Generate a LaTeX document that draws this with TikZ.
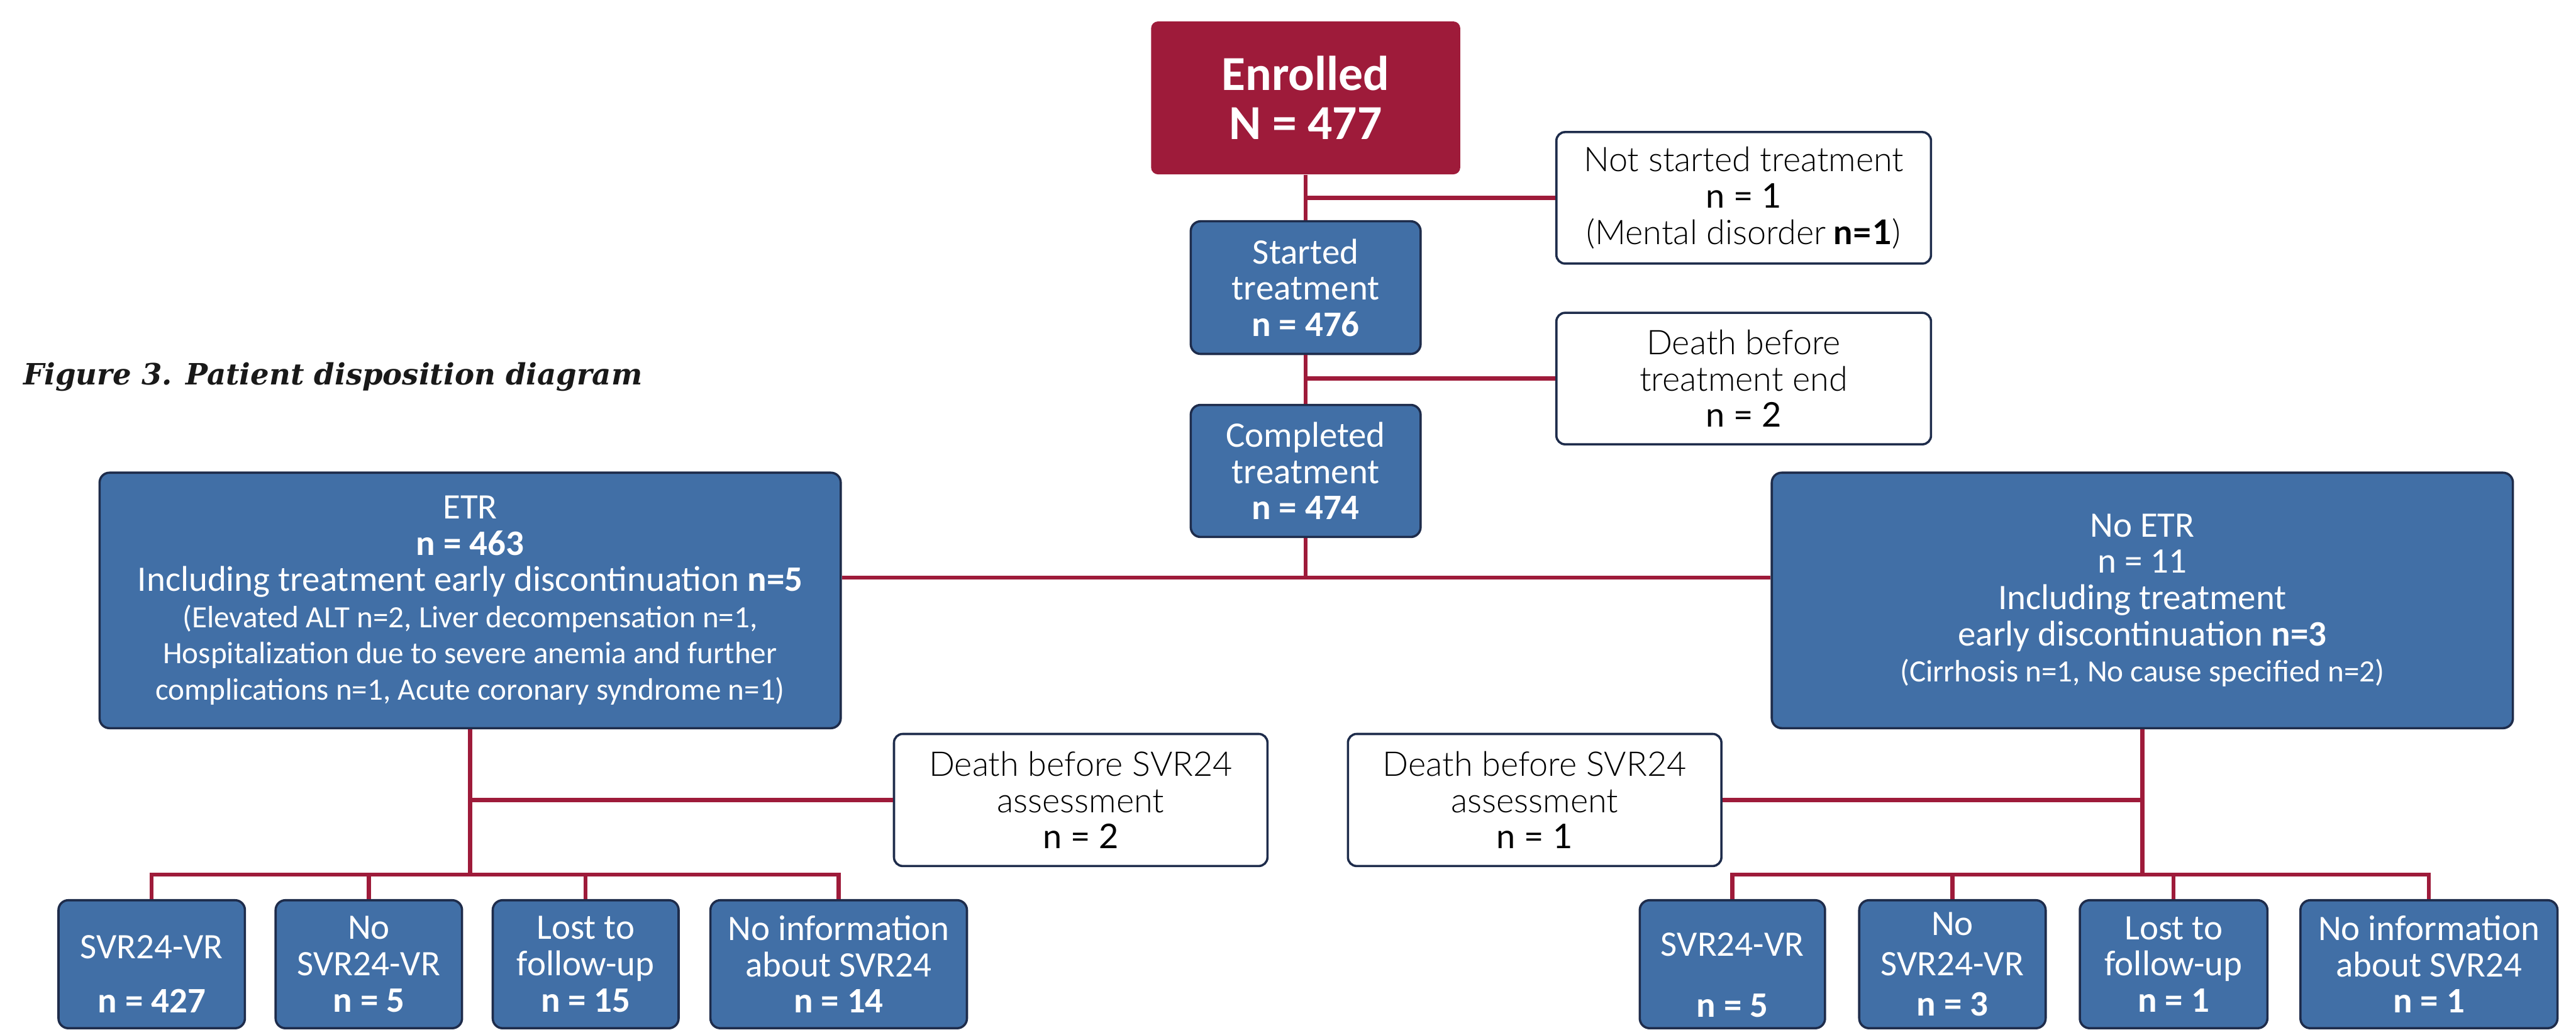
\documentclass[tikz,border=0pt]{standalone}
\usepackage{fontspec}
\setmainfont{Carlito}
\newfontfamily\titlefont{DejaVu Serif}
\newfontfamily\lightfont{Lato Light}
\newfontfamily\latofont{Lato}
\definecolor{maroon}{RGB}{158,27,58}
\definecolor{boxblue}{RGB}{65,111,166}
\definecolor{navy}{RGB}{30,44,75}
\newcommand\fmain{\fontsize{17.6}{17.8}\selectfont}
\newcommand\flight{\fontsize{16.7}{17.8}\selectfont}
\newcommand\fsmall{\fontsize{15.2}{17.6}\selectfont}
\newcommand\fbig{\fontsize{24}{24.2}\selectfont}
\newcommand\ftitle{\fontsize{14.4}{16}\selectfont}
\newcommand\lt[1]{{\lightfont #1}}
\newcommand\rg[1]{{\latofont #1}}
\tikzset{
  conn/.style={draw=maroon, line width=2pt},
  bluebox/.style={draw=navy, line width=1.1pt, fill=boxblue, rounded corners=0.17cm,
    text=white, align=center, inner sep=0pt, font=\fmain},
  whitebox/.style={draw=navy, line width=1.1pt, fill=white, rounded corners=0.15cm,
    text=black, align=center, inner sep=0pt, font=\flight},
  redbox/.style={fill=maroon, rounded corners=0.12cm, text=white, align=center,
    inner sep=0pt, font=\fbig\bfseries},
  titletext/.style={font=\ftitle\titlefont\bfseries\itshape, inner sep=0pt, text=black!90}
}
\begin{document}
\begin{tikzpicture}
\useasboundingbox (0,0) rectangle (44.49,-17.78);
% title
\node[titletext, anchor=base west] (title) at (0.40,-6.64) {Figure 3. Patient disposition diagram};
% main trunk
\node[redbox, minimum width=5.34cm, minimum height=2.64cm] (enrolled) at (22.55,-1.69) {Enrolled\\N = 477};
\node[bluebox, minimum width=3.97cm, minimum height=2.29cm] (started) at (22.55,-4.965) {Started\\treatment\\\textbf{n = 476}};
\node[bluebox, minimum width=3.97cm, minimum height=2.28cm] (completed) at (22.55,-8.13) {Completed\\treatment\\\textbf{n = 474}};
\node[whitebox, minimum width=6.47cm, minimum height=2.27cm] (notstarted) at (30.115,-3.415) {\lt{Not started treatment}\\\rg{n = 1}\\\lt{(Mental disorder} \rg{\bfseries n=1}\lt{)}};
\node[whitebox, minimum width=6.47cm, minimum height=2.27cm] (deathtx) at (30.115,-6.535) {\lt{Death before}\\\lt{treatment end}\\\rg{n = 2}};
% second level
\node[bluebox, minimum width=12.80cm, minimum height=4.41cm] (etr) at (8.12,-10.365) {ETR\\\textbf{n = 463}\\Including treatment early discontinuation \textbf{n=5}\\{\fsmall (Elevated ALT n=2, Liver decompensation n=1,}\\{\fsmall Hospitalization due to severe anemia and further}\\{\fsmall complications n=1, Acute coronary syndrome n=1)}};
\node[bluebox, minimum width=12.80cm, minimum height=4.41cm] (noetr) at (37.00,-10.365) {No ETR\\n = 11\\Including treatment\\early discontinuation \textbf{n=3}\\{\fsmall (Cirrhosis n=1, No cause specified n=2)}};
\node[whitebox, minimum width=6.45cm, minimum height=2.28cm] (deathL) at (18.665,-13.81) {\lt{Death before SVR24}\\\lt{assessment}\\\rg{n = 2}};
\node[whitebox, minimum width=6.45cm, minimum height=2.28cm] (deathR) at (26.505,-13.81) {\lt{Death before SVR24}\\\lt{assessment}\\\rg{n = 1}};
% bottom left
\node[bluebox, minimum width=3.22cm, minimum height=2.21cm] (b1) at (2.62,-16.645) {\rule{0pt}{21pt}SVR24-VR\\[9pt]\textbf{n = 427}};
\node[bluebox, minimum width=3.22cm, minimum height=2.21cm] (b2) at (6.37,-16.645) {No\\SVR24-VR\\\textbf{n = 5}};
\node[bluebox, minimum width=3.21cm, minimum height=2.21cm] (b3) at (10.115,-16.645) {Lost to\\follow-up\\\textbf{n = 15}};
\node[bluebox, minimum width=4.43cm, minimum height=2.21cm] (b4) at (14.485,-16.645) {No information\\about SVR24\\\textbf{n = 14}};
% bottom right
\node[bluebox, minimum width=3.20cm, minimum height=2.21cm] (c1) at (29.92,-16.645) {\rule{0pt}{22pt}SVR24-VR\\[12pt]\textbf{n = 5}};
\node[bluebox, minimum width=3.22cm, minimum height=2.21cm] (c2) at (33.72,-16.645) {No\\[2pt]SVR24-VR\\[2pt]\textbf{n = 3}};
\node[bluebox, minimum width=3.24cm, minimum height=2.21cm] (c3) at (37.54,-16.645) {Lost to\\follow-up\\\textbf{n = 1}};
\node[bluebox, minimum width=4.44cm, minimum height=2.21cm] (c4) at (41.95,-16.645) {No information\\about SVR24\\\textbf{n = 1}};
% junctions
\coordinate (jM) at (22.55,-9.97);
\coordinate (jL) at (8.12,-15.10);
\coordinate (jR) at (37.00,-15.10);
% connectors
\draw[conn] (enrolled.south) -- (started.north);
\draw[conn] (started.north |- notstarted.west) -- (notstarted.west);
\draw[conn] (started.south) -- (completed.north);
\draw[conn] (started.south |- deathtx.west) -- (deathtx.west);
\draw[conn] (completed.south) -- (jM);
\draw[conn] (jM -| etr.east) -- (jM -| noetr.west);
\draw[conn] (etr.south) -- (jL);
\draw[conn] (etr.south |- deathL.west) -- (deathL.west);
\draw[conn] (b1.north) -- (b1.north |- jL) -- (b4.north |- jL) -- (b4.north);
\draw[conn] (b2.north) -- (b2.north |- jL);
\draw[conn] (b3.north) -- (b3.north |- jL);
\draw[conn] (noetr.south) -- (jR);
\draw[conn] (noetr.south |- deathR.east) -- (deathR.east);
\draw[conn] (c1.north) -- (c1.north |- jR) -- (c4.north |- jR) -- (c4.north);
\draw[conn] (c2.north) -- (c2.north |- jR);
\draw[conn] (c3.north) -- (c3.north |- jR);
\end{tikzpicture}
\end{document}
